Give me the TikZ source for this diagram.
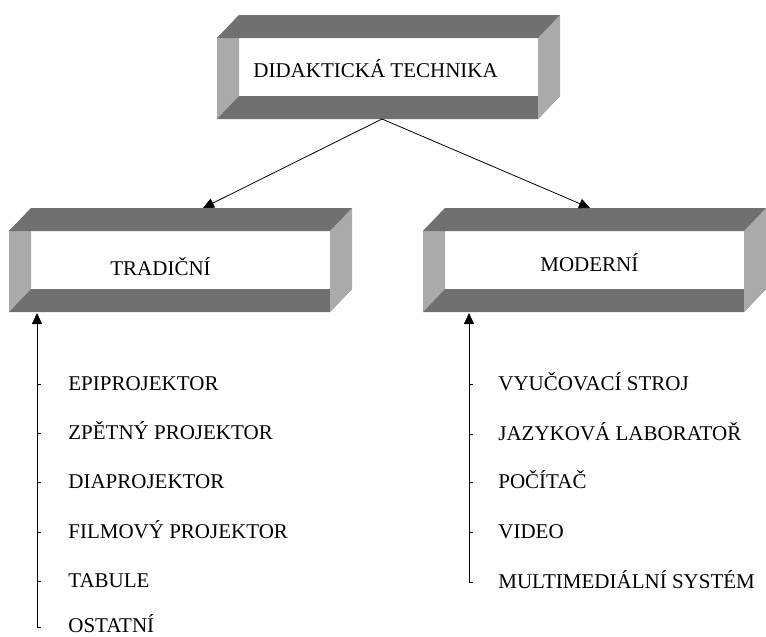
\documentclass[tikz,border=0pt]{standalone}
\usepackage{fontspec}
\setmainfont{Liberation Serif}
\usetikzlibrary{arrows.meta}
\definecolor{tubedark}{RGB}{112,112,112}
\definecolor{tubelight}{RGB}{170,170,170}
\begin{document}
\begin{tikzpicture}
[x=1pt,y=-1pt,line width=0.8pt,color=black,
 font=\fontsize{21}{25}\selectfont,
 item/.style={anchor=base west,inner sep=0pt},
 arr/.style={-{Triangle[length=11pt,width=10pt]}},
 tube/.pic={
  \fill[tubelight] (0,0) -- (22,-23) -- (22,58) -- (0,81) -- cycle;
  \fill[tubedark] (0,81) -- (22,58) -- (343,58) -- (321,81) -- cycle;
  \fill[tubelight] (321,0) -- (343,-23) -- (343,58) -- (321,81) -- cycle;
  \fill[tubedark] (0,0) -- (22,-23) -- (343,-23) -- (321,0) -- cycle;
 }]
\useasboundingbox (0,0) rectangle (766,637);
\pic at (217,38) {tube};
\pic at (9,231) {tube};
\pic at (423,231) {tube};
\node [item] (didakt) at (253,77) {DIDAKTICKÁ TECHNIKA};
\node [item] (trad) at (110,275) {TRADIČNÍ};
\node [item] (modern) at (540,271) {MODERNÍ};
\coordinate (dt) at (382,119);
\coordinate (tt) at (203,208);
\coordinate (mt) at (590,208);
\coordinate (tb) at (37,313);
\coordinate (te) at (37,627);
\coordinate (mb) at (469,313);
\coordinate (me) at (469,583);
% tradicni
\node [item] (t1) at (68,390) {EPIPROJEKTOR};
\node [item] (t2) at (68,439) {ZPĚTNÝ PROJEKTOR};
\node [item] (t3) at (68,488) {DIAPROJEKTOR};
\node [item] (t4) at (68,538) {FILMOVÝ PROJEKTOR};
\node [item] (t5) at (68,587) {TABULE};
\node [item] (t6) at (68,632) {OSTATNÍ};
% moderni
\node [item] (m1) at (498,390) {VYUČOVACÍ STROJ};
\node [item] (m2) at (498,440) {JAZYKOVÁ LABORATOŘ};
\node [item] (m3) at (498,488) {POČÍTAČ};
\node [item] (m4) at (498,538) {VIDEO};
\node [item] (m5) at (498,588) {MULTIMEDIÁLNÍ SYSTÉM};
\draw [arr] (dt) -- (tt);
\draw [arr] (dt) -- (mt);
\draw [arr] (te) -- (tb);
\draw [arr] (me) -- (mb);
\draw (t1.base west) ++(-31,-6) -- ++(4,0);
\draw (t2.base west) ++(-31,-6) -- ++(4,0);
\draw (t3.base west) ++(-31,-6) -- ++(4,0);
\draw (t4.base west) ++(-31,-6) -- ++(4,0);
\draw (t5.base west) ++(-31,-6) -- ++(4,0);
\draw (t6.base west) ++(-31,-5) -- ++(4,0);
\draw (m1.base west) ++(-29,-6) -- ++(4,0);
\draw (m2.base west) ++(-29,-6) -- ++(4,0);
\draw (m3.base west) ++(-29,-6) -- ++(4,0);
\draw (m4.base west) ++(-29,-6) -- ++(4,0);
\draw (m5.base west) ++(-29,-6) -- ++(4,0);
\end{tikzpicture}
\end{document}
